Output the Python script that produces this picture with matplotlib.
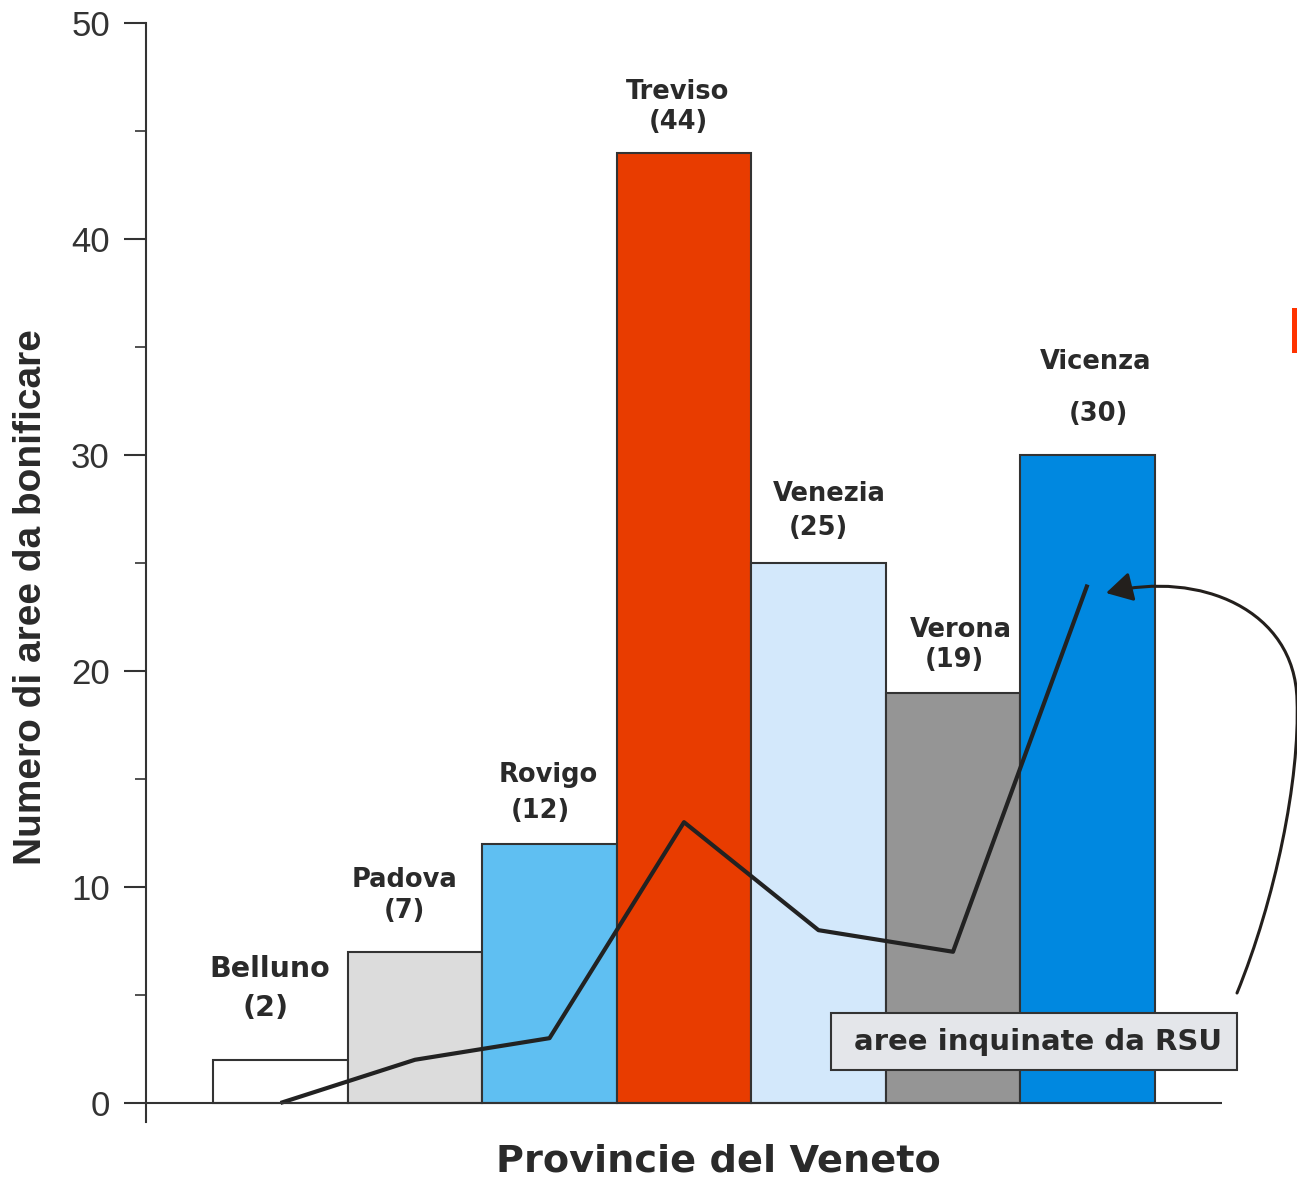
import matplotlib.pyplot as plt
import matplotlib as mpl
from matplotlib.patches import Rectangle, FancyArrowPatch
from matplotlib.path import Path

mpl.rcParams['font.family'] = ['Liberation Sans', 'DejaVu Sans']

# data
province = ['Belluno', 'Padova', 'Rovigo', 'Treviso', 'Venezia', 'Verona', 'Vicenza']
aree = [2, 7, 12, 44, 25, 19, 30]
aree_rsu = [0, 2, 3, 13, 8, 7, 24]
colori = ['#ffffff', '#dcdcdc', '#5fbff2', '#e83c00', '#d3e8fb', '#959595', '#0088e0']

# label placement (name offset, value offset above bar top, x shift)
name_dy = [4.2, 3.3, 3.2, 2.8, 3.2, 2.9, 4.3]
val_dy = [2.4, 1.9, 1.5, 1.4, 1.6, 1.5, 1.9]
name_dx = [-0.08, -0.08, -0.01, -0.05, 0.08, 0.06, 0.06]
val_dx = [-0.11, -0.08, -0.07, -0.04, 0.0, 0.01, 0.08]
name_fs = [20.5, 18.5, 18.5, 18.5, 18.5, 18.5, 18.5]

BOLD = ['DejaVu Sans']

W, H = 1297, 1181
fig = plt.figure(figsize=(W / 100, H / 100), dpi=100)
ax = fig.add_axes([146 / W, 1 - 1122.4 / H, 1076 / W, (1122.4 - 23) / H])

x = list(range(len(province)))
ax.bar(x, aree, width=1.0, color=colori, edgecolor='#333333', linewidth=1.5, zorder=2)
ax.plot(x, aree_rsu, color='#222222', lw=3, zorder=3, solid_capstyle='butt')

for i, (nome, v) in enumerate(zip(province, aree)):
    ax.text(i + name_dx[i], v + name_dy[i], nome, ha='center', va='center', family=BOLD,
            fontsize=name_fs[i], fontweight='bold', color='#2a2a2a')
    ax.text(i + val_dx[i], v + val_dy[i], '(%d)' % v, ha='center', va='center', family=BOLD,
            fontsize=name_fs[i], fontweight='bold', color='#2a2a2a')

# axes
ax.set_xlim(-1, 7)
ax.set_ylim(-0.9, 50)
for s in ['top', 'right', 'bottom']:
    ax.spines[s].set_visible(False)
ax.spines['left'].set_linewidth(1.5)
ax.spines['left'].set_color('#333333')
ax.axhline(0, color='#333333', lw=1.5, zorder=4)
ax.set_xticks([])
ax.set_yticks([0, 10, 20, 30, 40, 50])
ax.set_yticks([5, 15, 25, 35, 45], minor=True)
ax.tick_params(axis='y', which='major', length=16, width=1.5, color='#333333',
               labelsize=25, labelcolor='#333333', pad=10)
ax.tick_params(axis='y', which='minor', length=8, width=1.2, color='#333333')

fig.text(718 / W, 1 - 1162 / H, 'Provincie del Veneto', ha='center', va='center', family=BOLD,
         fontsize=27.5, fontweight='bold', color='#2a2a2a')
fig.text(31 / W, 1 - 597 / H, 'Numero di aree da bonificare', ha='center', va='center',
         rotation=90, fontsize=28, fontweight='bold', color='#2a2a2a')

# legend box
def fx(px):
    return px / W

def fy(py):
    return 1 - py / H

box = Rectangle((fx(831), fy(1070)), fx(1237) - fx(831), fy(1013) - fy(1070),
                transform=fig.transFigure, facecolor='#e4e6ea', edgecolor='#333333',
                lw=1.5, zorder=10, clip_on=False)
ax.add_patch(box)
ax.text(fx(1038), fy(1042), 'aree inquinate da RSU', transform=fig.transFigure, family=BOLD,
        ha='center', va='center', fontsize=21, fontweight='bold', color='#2a2a2a', zorder=11)

# curved arrow
verts = [(1237, 993), (1275, 900), (1300, 780), (1297, 700),
         (1295, 610), (1200, 570), (1106, 593)]
verts = [(fx(a), fy(b)) for a, b in verts]
codes = [Path.MOVETO, Path.CURVE4, Path.CURVE4, Path.CURVE4,
         Path.CURVE4, Path.CURVE4, Path.CURVE4]
arr = FancyArrowPatch(path=Path(verts, codes), transform=fig.transFigure,
                      arrowstyle='-|>,head_length=0.8,head_width=0.45', mutation_scale=20,
                      lw=2.2, color='#231f1c', zorder=12, clip_on=False)
ax.add_patch(arr)

# stray orange mark at the right edge
fig.patches.append(Rectangle((fx(1292), fy(353)), fx(1297) - fx(1292), fy(308) - fy(353),
                             transform=fig.transFigure, facecolor='#ff3300', edgecolor='none'))

plt.savefig('out.png', dpi=100)
